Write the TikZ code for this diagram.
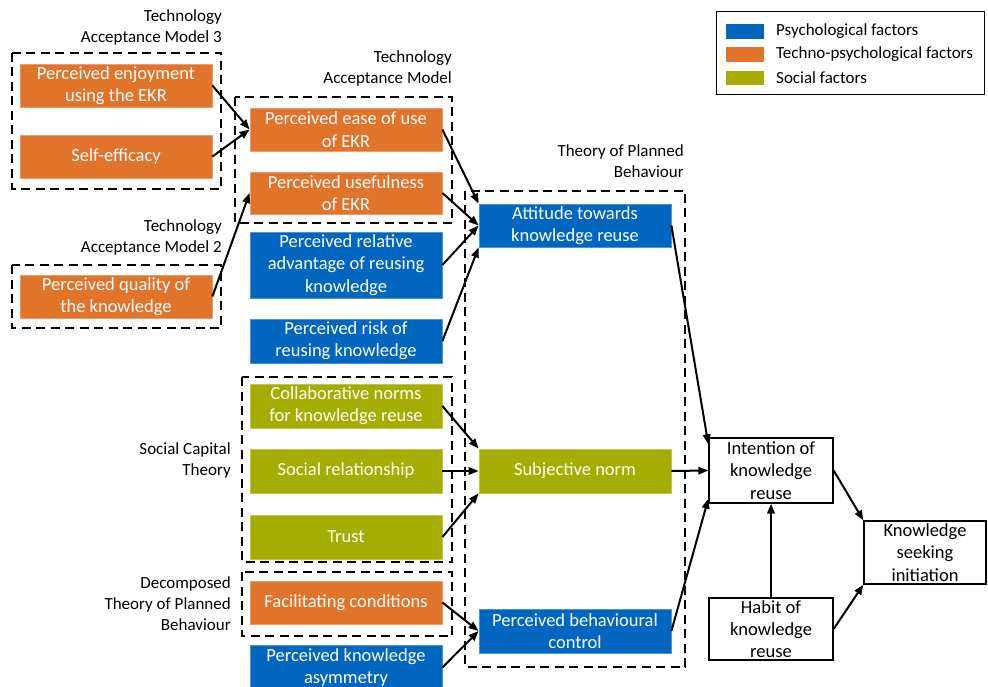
\documentclass[tikz,border=0pt]{standalone}
\usepackage{fontspec}
\setmainfont{Carlito}
\usetikzlibrary{arrows.meta}

\definecolor{psyblue}{HTML}{0066C0}
\definecolor{techorange}{HTML}{E2732A}
\definecolor{socgreen}{HTML}{A5AE00}

\tikzset{
  factor/.style={minimum width=192pt, minimum height=43pt, inner sep=0pt,
    align=center, text=white, line width=0.8pt,
    font=\fontsize{18.5}{22.3}\selectfont},
  psy/.style={factor, fill=psyblue, draw=psyblue!70!white},
  tech/.style={factor, fill=techorange, draw=techorange!70!white},
  soc/.style={factor, fill=socgreen, draw=socgreen!70!white},
  outcome/.style={draw=black, fill=white, line width=1.3pt, inner sep=0pt,
    align=center, font=\fontsize{18.5}{22.3}\selectfont},
  theory/.style={draw=black, dash pattern=on 9pt off 5.5pt, line width=2.3pt},
  theorylabel/.style={anchor=east, align=right, inner sep=0pt,
    font=\fontsize{17}{21}\selectfont},
  legendtext/.style={anchor=west, inner sep=0pt, font=\fontsize{17}{21}\selectfont},
  link/.style={-{Triangle[length=10pt,width=7.5pt]}, line width=2pt},
}

\begin{document}
\begin{tikzpicture}[x=1pt, y=-1pt]
\useasboundingbox (0,0) rectangle (988,687);

% ---- theory groupings (dashed frames) ----
\draw[theory] (12,53) rectangle (221,189);
\draw[theory] (235,97) rectangle (452,223);
\draw[theory] (12,265) rectangle (221,328);
\draw[theory] (242,377) rectangle (452,562);
\draw[theory] (242,572) rectangle (452,636);
\draw[theory] (465,191) rectangle (685,667);

\node[theorylabel] (lTAMthree) at (222,27.5) {Technology\\Acceptance Model 3};
\node[theorylabel] (lTAM) at (452,68.5) {Technology\\Acceptance Model};
\node[theorylabel] (lTAMtwo) at (222,237.5) {Technology\\Acceptance Model 2};
\node[theorylabel] (lTPB) at (684,161.5) {Theory of Planned\\Behaviour};
\node[theorylabel] (lSCT) at (231,460) {Social Capital\\Theory};
\node[theorylabel] (lDTPB) at (231,603.5) {Decomposed\\Theory of Planned\\Behaviour};

% ---- antecedent factors ----
\node[tech] (pe)  at (116,85.5) {Perceived enjoyment\\using the EKR};
\node[tech] (se)  at (116,156.5) {Self-efficacy};
\node[tech] (pq)  at (116,296.5) {Perceived quality of\\the knowledge};

\node[tech] (peu) at (346,129.5) {Perceived ease of use\\of EKR};
\node[tech, minimum height=42pt] (pu) at (346,193) {Perceived usefulness\\of EKR};
\node[psy, minimum height=66pt] (pra) at (346,265) {Perceived relative\\advantage of reusing\\knowledge};
\node[psy, minimum height=44pt] (pr) at (346,341) {Perceived risk of\\reusing knowledge};

\node[soc, minimum height=44pt] (cn) at (346,406) {Collaborative norms\\for knowledge reuse};
\node[soc, minimum height=44pt] (sr) at (346,471) {Social relationship};
\node[soc, minimum height=44pt] (tr) at (346,537) {Trust};

\node[tech] (fc)  at (346,602.5) {Facilitating conditions};
\node[psy, minimum height=45pt] (pka) at (346,667.5) {Perceived knowledge\\asymmetry};

% ---- Theory of Planned Behaviour constructs ----
\node[psy] (att) at (575,225.5) {Attitude towards\\knowledge reuse};
\node[soc, minimum height=44pt] (sn) at (575,471) {Subjective norm};
\node[psy, minimum height=44pt] (pbc) at (575,631) {Perceived behavioural\\control};

% ---- outcomes ----
\node[outcome, minimum width=124pt, minimum height=65pt] (int) at (771,470.5) {Intention of\\knowledge\\reuse};
\node[outcome, minimum width=124pt, minimum height=62pt] (hab) at (771,629) {Habit of\\knowledge\\reuse};
\node[outcome, minimum width=122pt, minimum height=63pt] (ksi) at (925,552.5) {Knowledge\\seeking\\initiation};

% ---- links ----
\draw[link] (pe.east) -- (peu.west);
\draw[link] (se.east) -- (peu.west);
\draw[link] (pq.east) -- (pu.west);

\draw[link] (peu.east) -- (att.north west);
\draw[link] (pu.east) -- (att.west);
\draw[link] (pra.east) -- (att.west);
\draw[link] (pr.east) -- (att.south west);

\draw[link] (cn.east) -- (sn.north west);
\draw[link] (sr.east) -- (sn.west);
\draw[link] (tr.east) -- (sn.south west);

\draw[link] (fc.east) -- (pbc.west);
\draw[link] (pka.east) -- (pbc.west);

\draw[link] (att.east) -- ([yshift=-7pt]int.north west);
\draw[link] (sn.east) -- (int.west);
\draw[link] (pbc.east) -- ([yshift=5pt]int.south west);
\draw[link] (hab.north) -- (int.south);

\draw[link] (int.east) -- (ksi.north west);
\draw[link] (hab.east) -- (ksi.south west);

% ---- legend ----
\draw[line width=1pt] (716,12) rectangle (984,95);
\fill[psyblue] (726,24) rectangle (764,39);
\fill[techorange] (726,47) rectangle (764,62);
\fill[socgreen] (726,71) rectangle (764,85);
\node[legendtext] (legpsy) at (776,31.5) {Psychological factors};
\node[legendtext] (legtech) at (776,54.5) {Techno-psychological factors};
\node[legendtext] (legsoc) at (776,78) {Social factors};
\end{tikzpicture}
\end{document}
